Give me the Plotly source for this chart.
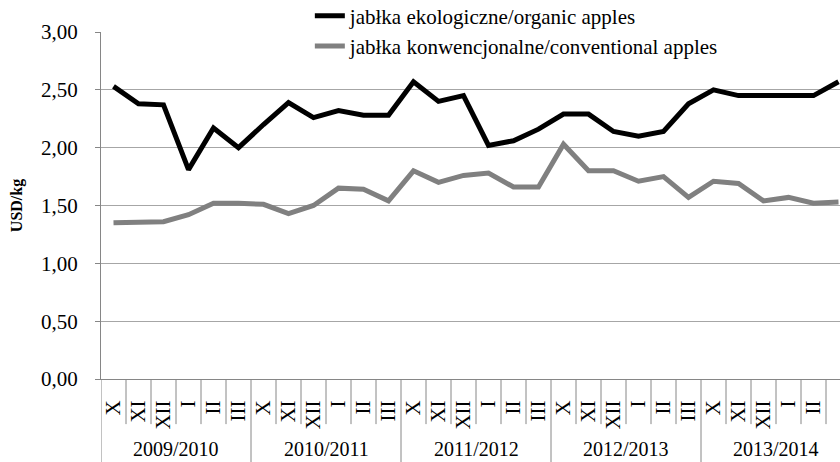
import plotly.graph_objects as go

months = ["X", "XI", "XII", "I", "II", "III"]
seasons = ["2009/2010", "2010/2011", "2011/2012", "2012/2013", "2013/2014"]

organic = [2.53, 2.38, 2.37, 1.81, 2.17, 2.00,
           2.20, 2.39, 2.26, 2.32, 2.28, 2.28,
           2.57, 2.40, 2.45, 2.02, 2.06, 2.16,
           2.29, 2.29, 2.14, 2.10, 2.14, 2.38,
           2.50, 2.45, 2.45, 2.45, 2.45, 2.57]
conventional = [1.35, 1.35, 1.36, 1.42, 1.52, 1.52,
                1.51, 1.43, 1.50, 1.65, 1.64, 1.54,
                1.80, 1.70, 1.76, 1.78, 1.66, 1.66,
                2.03, 1.80, 1.80, 1.71, 1.75, 1.57,
                1.71, 1.69, 1.54, 1.57, 1.52, 1.53]

name_org = "jabłka ekologiczne/organic apples"
name_conv = "jabłka konwencjonalne/conventional apples"

FONT = "Liberation Serif"
AXIS = "#868686"
GRID = "#a6a6a6"

nm = len(months)
n = len(seasons) * nm
xs = list(range(n))
ticktext = [m for _ in seasons for m in months]

fig = go.Figure()
fig.add_trace(go.Scatter(x=xs, y=organic, mode="lines", name=name_org,
                         line=dict(color="#000000", width=5)))
fig.add_trace(go.Scatter(x=xs, y=conventional, mode="lines", name=name_conv,
                         line=dict(color="#808080", width=5)))

# separators below the axis
shapes = []
for i in range(n + 1):
    long_ = (i % nm == 0)
    shapes.append(dict(type="line", xref="x", yref="paper",
                       x0=i - 0.5, x1=i - 0.5, y0=0,
                       y1=-0.245 if long_ else -0.13,
                       line=dict(color=AXIS, width=1)))

annotations = []
for k, s in enumerate(seasons):
    annotations.append(dict(x=k * nm + (nm - 1) / 2, y=-0.203, xref="x", yref="paper",
                            text=s, showarrow=False, xanchor="center", yanchor="middle",
                            borderpad=0,
                            font=dict(family=FONT, size=20, color="black")))

fig.update_layout(
    width=840, height=462,
    margin=dict(l=101, r=0, t=32, b=83, pad=0, autoexpand=False),
    paper_bgcolor="white", plot_bgcolor="white",
    separators=", ",
    font=dict(family=FONT, size=21, color="black"),
    showlegend=True,
    legend=dict(x=0.2826, y=1.105, xanchor="left", yanchor="top",
                bgcolor="rgba(0,0,0,0)", font=dict(family=FONT, size=21, color="black"),
                tracegroupgap=0),
    shapes=shapes,
    annotations=annotations,
)

fig.update_xaxes(range=[-0.5, n - 0.94], tickmode="array", tickvals=xs, ticktext=ticktext,
                 tickangle=-90, ticks="", showgrid=False, zeroline=False,
                 showline=True, linecolor=AXIS, linewidth=1,
                 tickfont=dict(family=FONT, size=21, color="black"),
                 ticklabelstandoff=12)
fig.update_yaxes(range=[0, 3], tick0=0, dtick=0.5, tickformat=".2f",
                 showgrid=True, gridcolor=GRID, gridwidth=1, zeroline=False,
                 showline=True, linecolor=AXIS, linewidth=1,
                 ticks="outside", ticklen=5, tickcolor=AXIS,
                 tickfont=dict(family=FONT, size=21, color="black"),
                 ticklabelstandoff=13,
                 title=dict(text="<b>USD/kg</b>", standoff=14,
                            font=dict(family=FONT, size=16, color="black")))

fig.write_html("out.html", config={"displayModeBar": False},
               post_script="document.body.style.margin='0px';document.body.style.padding='0px';document.body.style.overflow='hidden';")
